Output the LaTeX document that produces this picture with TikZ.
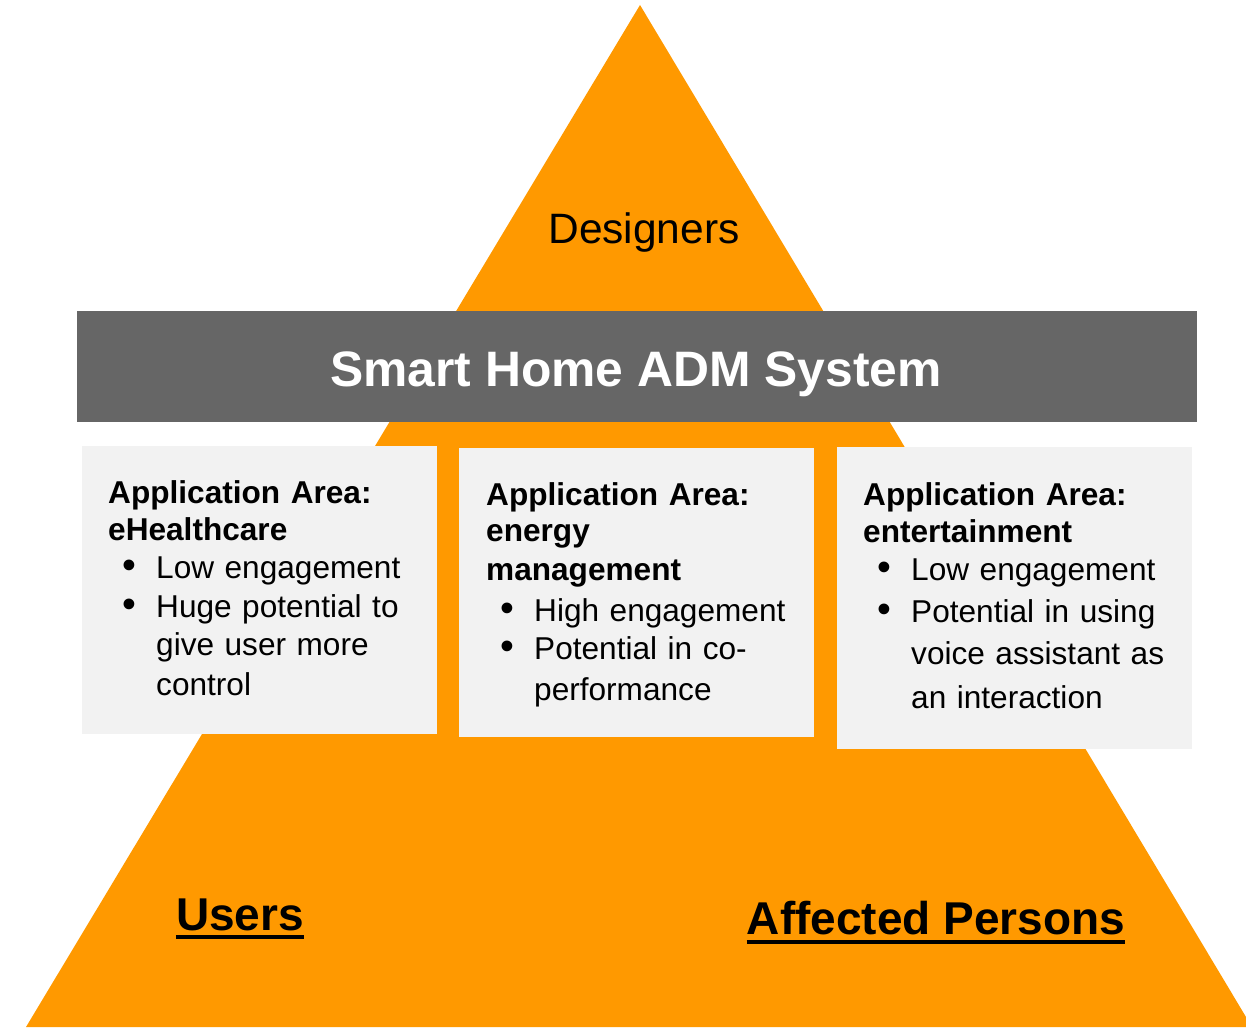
\documentclass[tikz,border=0pt]{standalone}
\usepackage{fontspec}
\setmainfont{Liberation Sans}
\definecolor{pyr}{HTML}{FF9900}
\definecolor{barc}{HTML}{666666}
\definecolor{boxbg}{HTML}{F2F2F2}
\newcommand{\blt}{\makebox[48pt][l]{\hspace{14pt}\scalebox{1.25}{\textbullet}}}
\newcommand{\ind}{\hspace*{48pt}}
\begin{document}
\begin{tikzpicture}[x=1pt,y=-1pt,
  areabox/.style={fill=boxbg,draw=none,anchor=north west,inner sep=0pt,minimum width=355pt},
  areatext/.style={anchor=base west,inner sep=0pt,text width=330pt,align=left,
    font=\fontsize{31.6}{38.5}\selectfont},
  grouplabel/.style={inner sep=0pt,anchor=base,font=\fontsize{46}{50}\selectfont\bfseries},
  uline/.style={line width=3.5pt}]
\useasboundingbox (0,0) rectangle (1246,1027);
\begin{scope}
  \clip (0,0) rectangle (1246,1027);
  \fill[pyr] (640,5) -- (1252,1027) -- (26,1027) -- cycle;
\end{scope}
% top label
\node[anchor=base,inner sep=0pt,font=\fontsize{42.5}{46}\selectfont] (designers) at (644,243) {Designers};
% bar
\node[fill=barc,anchor=north west,inner sep=0pt,minimum width=1120pt,minimum height=111pt] (bar) at (77,311) {};
\node[anchor=base,inner sep=0pt,text=white,font=\fontsize{49.8}{52}\selectfont\bfseries] (title) at (636,386) {Smart Home ADM System};
% boxes
\node[areabox,minimum height=288pt] (b1) at (82,446) {};
\node[areabox,minimum height=289pt] (b2) at (459,448) {};
\node[areabox,minimum height=302pt] (b3) at (837,447) {};
\node[areatext] (t1) at (108,503) {%
  \textbf{Application Area:}\\[-1.5pt]
  \textbf{eHealthcare}\\
  \blt Low engagement\\
  \blt Huge potential to\\
  \ind give user more\\[1pt]
  \ind control};
\node[areatext] (t2) at (486,505) {%
  \textbf{Application Area:}\\[-2pt]
  \textbf{energy}\\
  \textbf{management}\\[3pt]
  \blt High engagement\\[-1pt]
  \blt Potential in co-\\[2.5pt]
  \ind performance};
\node[areatext] (t3) at (863,505) {%
  \textbf{Application Area:}\\[-1.5pt]
  \textbf{entertainment}\\
  \blt Low engagement\\[3.5pt]
  \blt Potential in using\\[3.5pt]
  \ind voice assistant as\\[5.5pt]
  \ind an interaction};
% bottom labels
\node[grouplabel] (users) at (240,930) {Users};
\node[grouplabel] (affected) at (936,934) {Affected Persons};
\draw[uline] ([yshift=-7pt]users.base west) -- ([yshift=-7pt]users.base east);
\draw[uline] ([yshift=-8pt]affected.base west) -- ([yshift=-8pt]affected.base east);
\end{tikzpicture}
\end{document}
